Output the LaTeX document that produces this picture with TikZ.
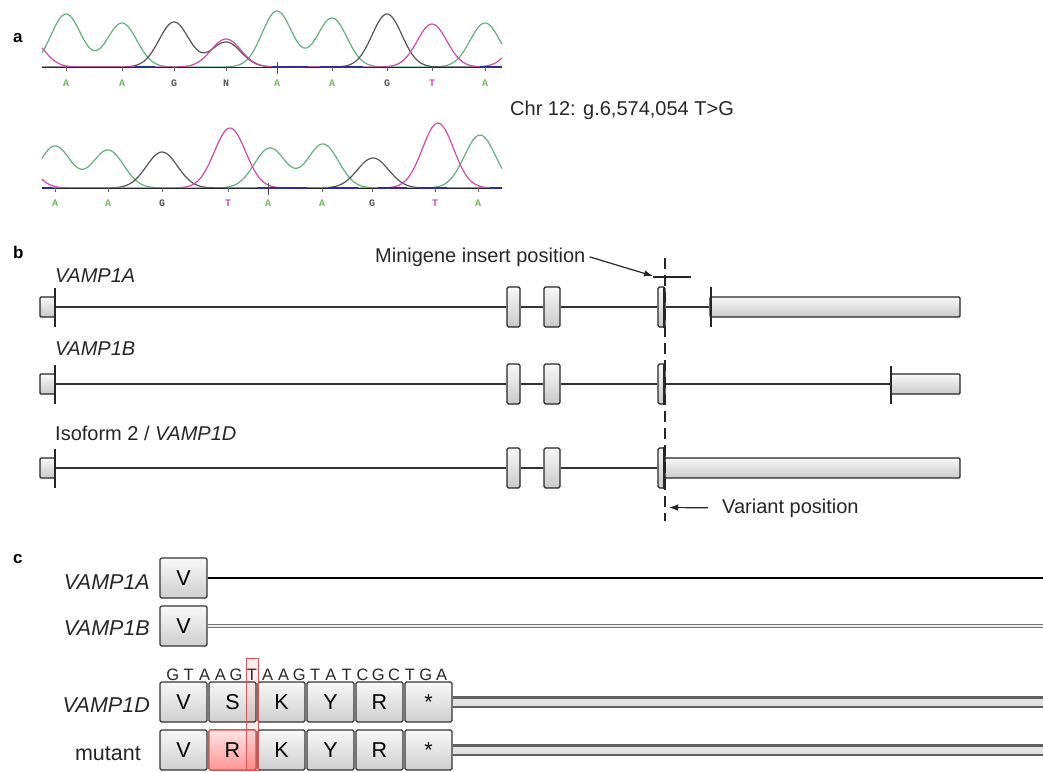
\documentclass[tikz,border=0pt]{standalone}
\usepackage{fontspec}
\setmainfont{Liberation Sans}
\newfontfamily\basefont{Liberation Mono}
\usetikzlibrary{arrows.meta}
\definecolor{trgreen}{RGB}{100,175,125}
\definecolor{trgray}{RGB}{85,85,85}
\definecolor{trpink}{RGB}{205,75,165}
\definecolor{trblue}{RGB}{45,45,150}
\definecolor{lblgreen}{RGB}{110,185,90}
\definecolor{redborder}{RGB}{205,90,90}
\begin{document}
\begin{tikzpicture}[x=1pt,y=-1pt,
  declare function={gs(\gxa,\gxb,\gxc,\gxd)=\gxc*exp(-((\gxa-\gxb)/\gxd)*((\gxa-\gxb)/\gxd));},
  chromtrace/.style={line width=1.2pt, line join=round},
  baselbl/.style={font=\basefont\bfseries\fontsize{10}{10}\selectfont, inner sep=0, anchor=center},
  panellbl/.style={font=\bfseries\fontsize{17}{17}\selectfont, anchor=base west, inner sep=0},
  txtb/.style={font=\fontsize{20}{22}\selectfont, inner sep=0},
  txtc/.style={font=\fontsize{21.5}{24}\selectfont, inner sep=0},
  seqlbl/.style={font=\fontsize{16.5}{18}\selectfont, inner sep=0, text=black!85},
  exon/.style={draw=black!85, line width=1.2pt, rounded corners=1.5pt, top color=gray!5, bottom color=gray!42, inner sep=0, minimum height=40pt},
  utr/.style={draw=black!85, line width=1.2pt, rounded corners=1pt, top color=gray!5, bottom color=gray!42, inner sep=0, minimum height=20pt},
  intron/.style={draw=black!80, line width=1.4pt},
  vtick/.style={draw=black!85, line width=2.6pt},
  arrowline/.style={draw=black!85, line width=1.2pt, -{Latex[length=9pt,width=6.5pt]}},
  aabox/.style={draw=black!80, line width=1.3pt, rounded corners=1.5pt, top color=gray!5, bottom color=gray!38, minimum width=47pt, minimum height=40pt, inner sep=0, font=\fontsize{21.5}{24}\selectfont},
  redbox/.style={aabox, draw=redborder, top color=red!10, bottom color=red!42},
  tube/.style={line width=2.6pt, draw=black!62, double=gray!22, double distance=7pt},
]
\useasboundingbox (0,0) rectangle (1043,771);

% ---------------- panel a ----------------
\node[panellbl] (la) at (13,42) {a};

% top chromatogram
\draw[chromtrace, trgreen] plot[domain=42:502, samples=230] (\x, {67 - gs(\x,66,53,21) - gs(\x,122,44,21) - gs(\x,277,56,21) - gs(\x,332,49,21) - gs(\x,485,44,21)});
\draw[chromtrace, trgray] plot[domain=42:502, samples=230] (\x, {67 - gs(\x,174,45,21) - gs(\x,226,25,21) - gs(\x,387,53,21)});
\draw[chromtrace, trpink] plot[domain=42:502, samples=230] (\x, {67 - gs(\x,28,30,21) - gs(\x,226,28,21) - gs(\x,432,43,21) - gs(\x,525,30,21)});
\draw[black!85, line width=1pt] (42,67) -- (502,67);
\foreach \a/\b in {135/155, 272/308, 320/363, 480/502}
  \draw[trblue, line width=2pt] (\a,67) -- (\b,67);
\foreach \p in {66,122,174,226,332,387,432,485}
  \draw[black!60, line width=0.8pt] (\p,67) -- (\p,71);
\draw[black!70, line width=1pt] (277,62) -- (277,74);
\foreach \p/\l/\c [count=\i] in {66/A/lblgreen,122/A/lblgreen,174/G/trgray,226/N/trgray,277/A/lblgreen,332/A/lblgreen,387/G/trgray,432/T/trpink,485/A/lblgreen}
  \node[baselbl, text=\c] (ta\i) at (\p,83) {\l};

% bottom chromatogram
\draw[chromtrace, trgreen] plot[domain=42:502, samples=230] (\x, {188 - gs(\x,55,42,22) - gs(\x,108,38,22) - gs(\x,270,40,22) - gs(\x,323,44,22) - gs(\x,480,53,22)});
\draw[chromtrace, trgray] plot[domain=42:502, samples=230] (\x, {188 - gs(\x,162,36,22) - gs(\x,373,30,22)});
\draw[chromtrace, trpink] plot[domain=42:502, samples=230] (\x, {188 - gs(\x,15,40,22) - gs(\x,230,60,22) - gs(\x,438,65,22)});
\draw[black!85, line width=1pt] (42,188) -- (502,188);
\foreach \a/\b in {42/53, 257/307, 328/358, 378/407, 418/447, 490/502}
  \draw[trblue, line width=2pt] (\a,188) -- (\b,188);
\foreach \p in {55,108,162,228,322,372,435,478}
  \draw[black!60, line width=0.8pt] (\p,188) -- (\p,192);
\draw[black!70, line width=1pt] (268,183) -- (268,195);
\foreach \p/\l/\c [count=\i] in {55/A/lblgreen,108/A/lblgreen,162/G/trgray,228/T/trpink,268/A/lblgreen,322/A/lblgreen,372/G/trgray,435/T/trpink,478/A/lblgreen}
  \node[baselbl, text=\c] (tb\i) at (\p,203) {\l};

\node[txtb, anchor=base west, text=black!85] (chr) at (510,115) {Chr 12: g.6,574,054 T>G};

% ---------------- panel b ----------------
\node[panellbl] (lb) at (13,258) {b};
\node[txtb, anchor=base west, text=black!85] (lbA) at (55,282) {\itshape VAMP1A};
\node[txtb, anchor=base west, text=black!85] (lbB) at (55,355) {\itshape VAMP1B};
\node[txtb, anchor=base west, text=black!85] (lbD) at (55,440) {Isoform 2 / \itshape VAMP1D};

% row 1
\node[utr, minimum width=15pt] (r1u) at (47.5,307) {};
\node[exon, minimum width=13pt] (r1e2) at (513.5,307) {};
\node[exon, minimum width=16pt] (r1e3) at (552,307) {};
\node[exon, minimum width=7pt] (r1e4) at (661.5,307) {};
\node[utr, minimum width=250pt] (r1e5) at (835,307) {};
\draw[intron] (r1u.east) -- (r1e2.west);
\draw[intron] (r1e2.east) -- (r1e3.west);
\draw[intron] (r1e3.east) -- (r1e4.west);
\draw[intron] (r1e4.east) -- (r1e5.west);
\draw[vtick] (55,288) -- (55,327);
\draw[vtick] (664,287) -- (664,328);
\draw[vtick] (711,287) -- (711,327);

% row 2
\node[utr, minimum width=15pt] (r2u) at (47.5,384) {};
\node[exon, minimum width=13pt] (r2e2) at (513.5,384) {};
\node[exon, minimum width=16pt] (r2e3) at (552,384) {};
\node[exon, minimum width=7pt] (r2e4) at (661.5,384) {};
\node[utr, minimum width=69pt] (r2e5) at (925.5,384) {};
\draw[intron] (r2u.east) -- (r2e2.west);
\draw[intron] (r2e2.east) -- (r2e3.west);
\draw[intron] (r2e3.east) -- (r2e4.west);
\draw[intron] (r2e4.east) -- (r2e5.west);
\draw[vtick] (55,365) -- (55,404);
\draw[vtick] (664,364) -- (664,405);
\draw[vtick] (891,366) -- (891,404);

% row 3
\node[utr, minimum width=15pt] (r3u) at (47.5,468) {};
\node[exon, minimum width=13pt] (r3e2) at (513.5,468) {};
\node[exon, minimum width=16pt] (r3e3) at (552,468) {};
\node[exon, minimum width=7pt] (r3e4) at (661.5,468) {};
\node[utr, minimum width=295pt] (r3e5) at (812.5,468) {};
\draw[intron] (r3u.east) -- (r3e2.west);
\draw[intron] (r3e2.east) -- (r3e3.west);
\draw[intron] (r3e3.east) -- (r3e4.west);
\draw[vtick] (55,449) -- (55,488);
\draw[vtick] (664,447) -- (664,489);

% dashed line & annotations
\coordinate (dtop) at (665,258);
\coordinate (dbot) at (665,521);
\draw[black!85, line width=1.4pt, dash pattern=on 11pt off 6pt] (dtop) -- (dbot);

\node[txtb, anchor=base west, text=black!85] (mini) at (375,262) {Minigene insert position};
\coordinate (minitip) at (653,276);
\draw[arrowline] ([xshift=4pt]mini.east) -- (minitip);
\coordinate (insL) at (653,277);
\coordinate (insR) at (691,277);
\draw[black!85, line width=1.4pt] (insL) -- (insR);

\node[txtb, anchor=base west, text=black!85] (var) at (722,513) {Variant position};
\coordinate (vartip) at (669,507.5);
\draw[arrowline] ([xshift=-14pt]var.west) -- (vartip);

% ---------------- panel c ----------------
\node[panellbl] (lc) at (13,563) {c};
\node[txtc, anchor=base east, text=black!85] (lcA) at (150,589) {\itshape VAMP1A};
\node[txtc, anchor=base east, text=black!85] (lcB) at (150,635) {\itshape VAMP1B};
\node[txtc, anchor=base east, text=black!85] (lcD) at (150,712) {\itshape VAMP1D};
\node[txtc, anchor=base east, text=black!85] (lcM) at (141,760) {mutant};

\node[aabox] (cA) at (183.5,578) {V};
\node[aabox] (cB) at (183.5,626) {V};
\coordinate (endA) at (1043,578);
\coordinate (endB) at (1043,626);
\draw[black, line width=1.6pt] (cA.east) -- (endA);
\draw[black!55, line width=3.8pt] (cB.east) -- (endB);
\draw[gray!12, line width=1.2pt] (cB.east) -- (endB);

\foreach \l [count=\i from 0] in {G,T,A,A,G,T,A,A,G,T,A,T,C,G,C,T,G,A}
  \node[seqlbl, anchor=base] (s\i) at ({165+15.8*(\i+0.5)},680) {\l};

\foreach \l [count=\i] in {V,S,K,Y,R,*}
  \node[aabox] (d\i) at ({183.5+49*(\i-1)},702) {\l};
\foreach \l [count=\i] in {V,R,K,Y,R,*}
  \node[aabox] (m\i) at ({183.5+49*(\i-1)},750) {\l};
\node[redbox] (m2r) at (232.5,750) {R};

\coordinate (endD) at (1043,702);
\coordinate (endM) at (1043,750);
\draw[tube] (d6.east) -- (endD);
\draw[tube] (m6.east) -- (endM);

\draw[redborder, line width=1pt, fill=red, fill opacity=0.07] (246,658) rectangle (258,770);

\end{tikzpicture}
\end{document}
